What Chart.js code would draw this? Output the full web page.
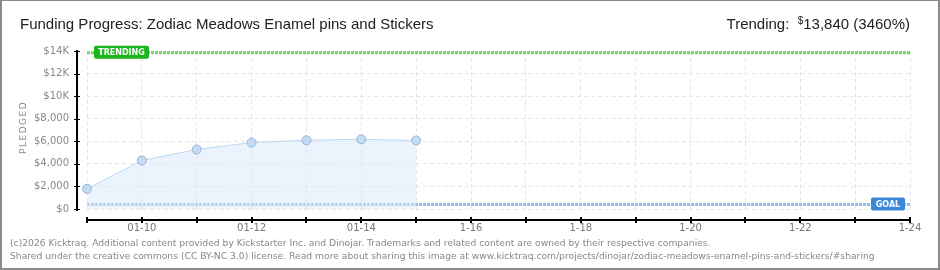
<!DOCTYPE html>
<html>
<head>
<meta charset="utf-8">
<script src="https://cdn.jsdelivr.net/npm/chart.js@4/dist/chart.umd.min.js"></script>
<style>
  html, body { margin: 0; padding: 0; background: #fff; }
  #frame { position: relative; width: 940px; height: 270px; box-sizing: border-box;
           border: 2px solid #8a8a8a; border-top-width: 1px; overflow: hidden; }
  #chart { position: absolute; left: -2px; top: -1px; }
  .txt { position: absolute; white-space: nowrap; }
  #title { left: 18px; top: 14px; font: 15px "Liberation Sans", sans-serif; color: #222; }
  #trend { right: 28px; top: 14px; font: 15px "Liberation Sans", sans-serif; color: #222; }
  #trend sup { font-size: 10px; vertical-align: 5px; }
  #pledged { left: -4px; top: 123px; font: 9px "DejaVu Sans", sans-serif; color: #888; letter-spacing: 1.5px;
             transform: rotate(-90deg); transform-origin: center; width: 50px; text-align: center; }
  .foot { left: 8px; font: 9.2px "DejaVu Sans", sans-serif; color: #888; }
</style>
</head>
<body>
<div id="frame">
  <canvas id="chart" width="940" height="270"></canvas>
  <div class="txt" id="title">Funding Progress: Zodiac Meadows Enamel pins and Stickers</div>
  <div class="txt" id="trend">Trending:&nbsp; <sup>$</sup>13,840 (3460%)</div>
  <div class="txt" id="pledged">PLEDGED</div>
  <div class="txt foot" style="top:236px">(c)2026 Kicktraq. Additional content provided by Kickstarter Inc. and Dinojar. Trademarks and related content are owned by their respective companies.</div>
  <div class="txt foot" style="top:249px">Shared under the creative commons (CC BY-NC 3.0) license. Read more about sharing this image at www.kicktraq.com/projects/dinojar/zodiac-meadows-enamel-pins-and-stickers/#sharing</div>
</div>
<script>
// days on the x axis
const days = ['01-09','01-10','01-11','01-12','01-13','01-14','01-15','1-16',
              '1-17','1-18','1-19','1-20','1-21','1-22','1-23','1-24'];
// pledged total per day
const pledged = [1790, 4300, 5270, 5890, 6090, 6180, 6070];
const trending = 13840;
const goal = 400;
const yMax = 14000;

Chart.defaults.font.family = 'DejaVu Sans';
Chart.defaults.font.size = 10;
Chart.defaults.color = '#888';

function fmt(v){
  if (v >= 10000) return '$' + (v/1000) + 'K';
  return '$' + v.toLocaleString('en-US');
}

// axes drawn a little away from the plot, plus the TRENDING / GOAL tags
const extras = {
  id: 'extras',
  afterDraw(chart){
    const c = chart.ctx, a = chart.chartArea;
    const xs = chart.scales.x, ys = chart.scales.y;
    c.save();
    // y axis
    const ax = a.left - 10;
    c.strokeStyle = '#000'; c.lineWidth = 2;
    c.beginPath(); c.moveTo(ax, a.top - 1); c.lineTo(ax, a.bottom + 2); c.stroke();
    ys.ticks.forEach(t => {
      const y = Math.round(ys.getPixelForValue(t.value)) + 0.5;
      c.lineWidth = 1;
      if (t.value % 2000 === 0){
        c.strokeStyle = '#000';
        c.beginPath(); c.moveTo(ax - 3, y); c.lineTo(ax + 3, y); c.stroke();
      } else {
        c.strokeStyle = '#e00';
        c.beginPath(); c.moveTo(ax - 3, y); c.lineTo(ax, y); c.stroke();
      }
    });
    // x axis
    const ay = a.bottom + 11;
    c.strokeStyle = '#000'; c.lineWidth = 2;
    c.beginPath(); c.moveTo(a.left, ay); c.lineTo(a.right, ay); c.stroke();
    days.forEach((d, i) => {
      const x = Math.round(xs.getPixelForValue(i));
      c.beginPath(); c.moveTo(x, ay - 3); c.lineTo(x, ay + 3); c.stroke();
    });
    // tags
    function tag(text, x, y, w, col){
      c.fillStyle = col;
      c.beginPath(); c.roundRect(x, y, w, 13, 2); c.fill();
      c.fillStyle = '#fff';
      c.font = 'bold 8px "DejaVu Sans"';
      c.textBaseline = 'middle';
      c.textAlign = 'center';
      c.fillText(text, x + w / 2, y + 7);
    }
    tag('TRENDING', a.left + 7, ys.getPixelForValue(trending) - 7, 55, '#1db41d');
    tag('GOAL', a.right - 39, ys.getPixelForValue(goal) - 7, 34, '#3b8ad9');
    c.restore();
  }
};

new Chart(document.getElementById('chart'), {
  type: 'line',
  data: {
    labels: days,
    datasets: [
      {
        data: pledged,
        borderColor: '#bcd8f2',
        borderWidth: 1,
        backgroundColor: 'rgba(218,233,250,0.55)',
        fill: 'origin',
        pointRadius: 4.5,
        pointBackgroundColor: '#c2dcf6',
        pointBorderColor: '#97b3d3',
        pointBorderWidth: 1,
        tension: 0,
        clip: false
      },
      {
        data: days.map(() => trending),
        borderColor: '#7ad46a',
        borderWidth: 3,
        borderDash: [3, 1],
        pointRadius: 0,
        fill: false,
        clip: false
      },
      {
        data: days.map(() => goal),
        borderColor: '#8dbce9',
        borderWidth: 3,
        borderDash: [3, 1],
        pointRadius: 0,
        fill: false,
        clip: false
      }
    ]
  },
  options: {
    responsive: false,
    animation: false,
    layout: { padding: { left: 0, top: 51, right: 30, bottom: 0 } },
    plugins: { legend: { display: false }, tooltip: { enabled: false } },
    scales: {
      x: {
        type: 'category',
        offset: false,
        afterFit: s => { s.height = 61; },
        grid: { color: '#e6e6e6', drawTicks: false },
        border: { display: false, dash: [4, 3] },
        ticks: {
          padding: 13, maxRotation: 0, autoSkip: false, color: '#777',
          callback: (v, i) => (i % 2 === 1 ? days[i] : '')
        }
      },
      y: {
        min: 0, max: yMax,
        afterFit: s => { s.width = 87; },
        grid: {
          drawTicks: false,
          color: ctx => (ctx.tick && ctx.tick.value % 2000 === 0 ? '#e6e6e6' : 'rgba(0,0,0,0)')
        },
        border: { display: false, dash: [4, 3] },
        ticks: {
          stepSize: 1000, padding: 18, color: '#888',
          callback: v => (v % 2000 === 0 ? fmt(v) : '')
        }
      }
    }
  },
  plugins: [extras]
});
</script>
</body>
</html>
